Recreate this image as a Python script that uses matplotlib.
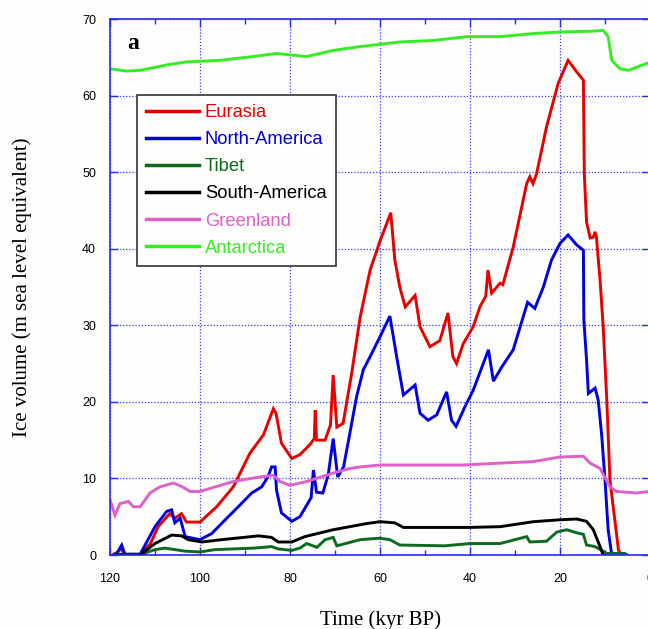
import matplotlib
matplotlib.use("Agg")
import matplotlib.pyplot as plt
from matplotlib.ticker import MultipleLocator

# ---- data (time in kyr BP, ice volume in m sea level equivalent) ----
x_eu = [119.5, 118.5, 117.6, 116.5, 113.3, 111, 109.3, 106.7, 105.6, 104.1, 103, 100, 96.3, 92.6,
        88.9, 85.9, 83.7, 83.1, 81.9, 79.6, 77.8, 75.6, 74.6, 74.4, 74.1, 72.2, 71, 70.4, 69.6,
        68.2, 66.3, 64.4, 62.2, 60, 57.6, 56.7, 55.6, 54.4, 52.2, 51.1, 48.9, 46.7, 44.9, 43.8,
        43, 41.5, 39.3, 37.8, 36.5, 36, 35.2, 33.3, 32.7, 30.4, 27.4, 26.7, 26, 25.2, 23, 20.4,
        18.2, 16.3, 14.8, 14.6, 14.1, 13.3, 12.6, 12.2, 11.9, 11.1, 10.4, 9.6, 8.9, 7, 6.3]
y_eu = [0, 0.3, 0.8, 0, 0, 1.5, 3.7, 5.4, 4.8, 5.4, 4.3, 4.3, 6.3, 8.9,
        13.3, 15.7, 19.1, 18.5, 14.6, 12.6, 13.1, 14.4, 15.2, 18.9, 15, 15, 17, 23.5, 16.7,
        17.2, 23.7, 31.1, 37.2, 41, 44.7, 38.5, 35, 32.4, 33.9, 29.8, 27.2, 28, 31.6, 25.9,
        25, 27.6, 29.8, 32.4, 33.8, 37.2, 34.2, 35.5, 35.3, 40.2, 48.5, 49.4, 48.5, 49.8, 55.9, 61.6,
        64.6, 63.1, 62, 49.8, 43.5, 41.4, 41.5, 42.2, 41.5, 35.9, 29.8, 20.2, 9.8, 0.6, 0]

x_na = [119, 118.5, 117.4, 116.7, 113.3, 110, 107.4, 106.3, 105.6, 104.4, 103.3, 100, 97.4, 94.4,
        91.5, 88.5, 86.3, 84.9, 84.1, 83.3, 83, 81.9, 79.6, 77.8, 75.3, 74.8, 74.1, 72.7, 71.5,
        70.4, 69.4, 68.1, 66.7, 65.2, 63.7, 62.2, 60, 57.8, 56.3, 54.8, 52.2, 51.1, 49.3, 47.4,
        45.2, 44.1, 43.1, 41.1, 39.3, 35.9, 34.8, 33, 30.4, 27.2, 25.6, 23.7, 21.9, 20, 18.2,
        16.3, 14.8, 14.7, 14.1, 13.7, 12.2, 11.5, 10.7, 10, 9.3, 8.5]
y_na = [0, 0.2, 1.3, 0.1, 0.1, 3.7, 5.7, 5.9, 4.2, 4.8, 2.4, 2, 2.8, 4.6,
        6.3, 8.1, 8.9, 10.2, 11.5, 11.5, 8.5, 5.5, 4.4, 5.0, 7.5, 11.1, 8.2, 8.1, 10.5,
        15.2, 10.2, 11.5, 15.9, 20.7, 24.2, 25.9, 28.5, 31.2, 25.9, 20.9, 22.2, 18.5, 17.6, 18.3,
        21.3, 17.6, 16.8, 19.4, 21.5, 26.8, 22.7, 24.5, 26.8, 33, 32.2, 35, 38.5, 40.7, 41.8,
        40.5, 39.8, 30.7, 25.5, 21.1, 21.8, 20.2, 15.4, 9.8, 3.3, 0]

x_ti = [119, 113, 110, 107.8, 103.3, 100, 96.7, 88, 84.1, 82.7, 79.6, 77.8, 76.3, 74, 72.2, 70.4,
        69.6, 64.4, 60, 57.8, 55.6, 45.6, 40, 33.3, 27.4, 26.7, 23, 20.7, 18.5, 16.3, 14.8, 14.1,
        12.2, 10.7, 9.6, 5.6, 5]
y_ti = [0.1, 0.1, 0.7, 0.9, 0.5, 0.4, 0.7, 0.9, 1.1, 0.8, 0.6, 0.9, 1.5, 1.0, 2.0, 2.3,
        1.2, 2.0, 2.2, 2.0, 1.3, 1.2, 1.5, 1.5, 2.4, 1.7, 1.8, 3.0, 3.3, 2.9, 2.7, 1.3,
        1.1, 0.6, 0.2, 0.2, 0]

x_sa = [119, 113.3, 110, 106.3, 104.1, 102.6, 99.6, 95.2, 87, 84.1, 82.6, 79.6, 76.7, 70.4, 63,
        60, 56.7, 54.8, 40.4, 33.3, 25.9, 20, 16.3, 14.1, 12.6, 11.1, 10.4]
y_sa = [0, 0, 1.5, 2.6, 2.5, 2.0, 1.7, 2.0, 2.5, 2.3, 1.7, 1.7, 2.4, 3.3, 4.1,
        4.35, 4.2, 3.6, 3.6, 3.7, 4.35, 4.6, 4.7, 4.4, 3.3, 1.1, 0]

x_gr = [120, 118.9, 117.8, 115.9, 114.8, 113.3, 111.1, 108.9, 105.9, 103.9, 102.2, 100, 92.6, 86.7,
        83.7, 82.2, 80, 76.3, 70.4, 66.7, 64.4, 60, 48.9, 41.5, 33.3, 25.9, 20, 14.8, 13.3,
        11.1, 8.9, 7.4, 3, 0]
y_gr = [7.2, 5.2, 6.7, 7.0, 6.3, 6.3, 8.1, 8.9, 9.4, 8.9, 8.3, 8.3, 9.6, 10.2,
        10.4, 9.6, 9.1, 9.6, 10.7, 11.3, 11.5, 11.75, 11.75, 11.75, 12.0, 12.2, 12.8, 12.9, 12.0,
        11.3, 8.9, 8.3, 8.1, 8.3]

x_an = [120, 116.3, 113.3, 107.4, 103, 95.6, 88.1, 83, 76.3, 70.4, 64.4, 55.6, 48.1, 40.7, 33.3,
        25.9, 20, 13.3, 10.4, 9.3, 8.5, 6.7, 4.8, 3, 0.7, 0]
y_an = [63.5, 63.2, 63.3, 64.0, 64.4, 64.6, 65.1, 65.5, 65.1, 65.9, 66.4, 67.0, 67.2, 67.7, 67.7,
        68.1, 68.3, 68.4, 68.5, 67.7, 64.6, 63.5, 63.3, 63.7, 64.2, 64.3]

series_names = ["Eurasia", "North-America", "Tibet", "South-America", "Greenland", "Antarctica"]
series_x = [x_eu, x_na, x_ti, x_sa, x_gr, x_an]
series_y = [y_eu, y_na, y_ti, y_sa, y_gr, y_an]
series_colors = ["#e80000", "#0000e0", "#0d6b1f", "#000000", "#e060c8", "#33ee22"]

x_ticks = [120, 100, 80, 60, 40, 20, 0]
y_ticks = [0, 10, 20, 30, 40, 50, 60, 70]

# ---- figure ----
fig = plt.figure(figsize=(6.48, 6.29), dpi=100, facecolor="#fdfdfb")
ax = fig.add_axes([110 / 648, 74 / 629, 540 / 648, 536 / 629])
ax.set_facecolor("#fdfdfb")

for xs, ys, c, n in zip(series_x, series_y, series_colors, series_names):
    ax.plot(xs, ys, color=c, lw=2.1, label=n, solid_joinstyle="miter")

ax.set_xlim(120, 0)
ax.set_ylim(0, 70)
ax.set_xticks(x_ticks)
ax.set_yticks(y_ticks)
ax.xaxis.set_minor_locator(MultipleLocator(10))

spine_col = "#2a2ae6"
for s in ax.spines.values():
    s.set_color(spine_col)
    s.set_linewidth(1.2)
ax.tick_params(which="both", direction="in", colors=spine_col, top=True, right=True,
               labelcolor="black", labelsize=9)
ax.tick_params(which="major", length=6, width=1)
ax.tick_params(which="minor", length=3.5, width=1)
ax.tick_params(axis="x", pad=13)
ax.tick_params(axis="y", pad=10)
for lab in ax.get_xticklabels() + ax.get_yticklabels():
    lab.set_fontfamily("Liberation Sans")

ax.grid(True, which="major", color="#3a3aff", linestyle=(0, (1, 1.5)), linewidth=0.9)
ax.set_axisbelow(True)

ax.set_xlabel("Time (kyr BP)", fontfamily="Liberation Serif", fontsize=15, labelpad=18)
ax.set_ylabel("Ice volume (m sea level equivalent)", fontfamily="Liberation Serif",
              fontsize=15, labelpad=36)

ax.text(0.032, 0.955, "a", transform=ax.transAxes, fontfamily="Liberation Serif",
        fontweight="bold", fontsize=17, va="center", ha="left")

leg = ax.legend(loc="upper left", bbox_to_anchor=(137 / 648, 1 - 95 / 629),
                bbox_transform=fig.transFigure, frameon=True, fancybox=False,
                shadow=False, framealpha=1, edgecolor="#333333",
                prop={"family": "Liberation Sans", "size": 13.2},
                labelcolor="linecolor", handlelength=2.9, handletextpad=0.3,
                labelspacing=0.55, borderpad=0.5, borderaxespad=0)
leg.get_frame().set_linewidth(1.2)
leg.get_frame().set_facecolor("#fdfdfb")
for line in leg.get_lines():
    line.set_linewidth(2.5)

fig.savefig("out.png", dpi=100, facecolor=fig.get_facecolor())
